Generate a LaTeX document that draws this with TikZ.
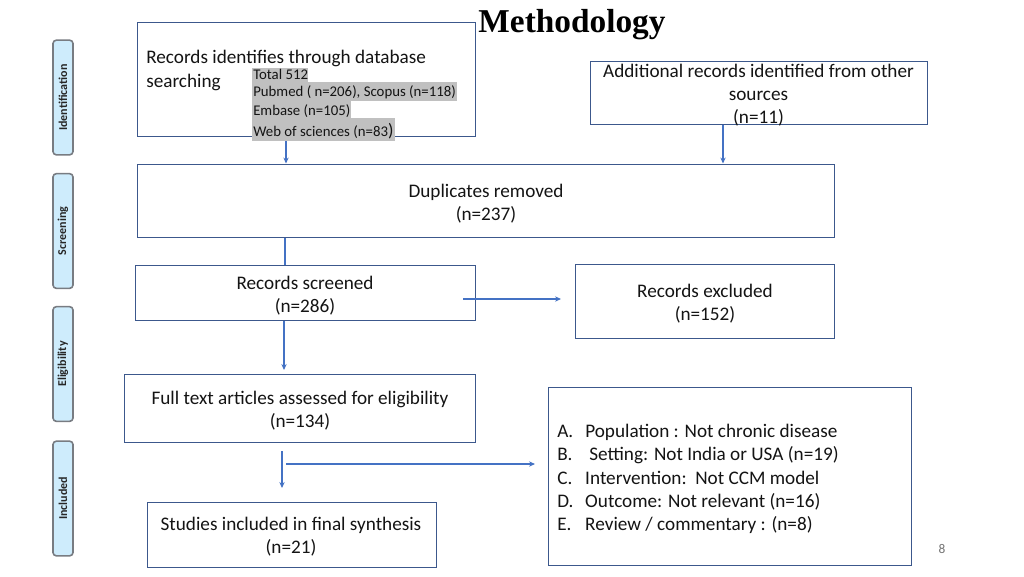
\documentclass[tikz,border=0pt]{standalone}
\usepackage{fontspec}
\setmainfont{Carlito}
\newfontfamily\titlefont{Liberation Serif}
\usetikzlibrary{fit,arrows.meta}
\definecolor{boxc}{RGB}{60,88,140}
\definecolor{arrc}{RGB}{68,114,196}
\definecolor{hlc}{RGB}{192,192,192}
\definecolor{tabfill}{RGB}{206,236,252}
\definecolor{tabline}{RGB}{120,124,130}
\definecolor{txtc}{RGB}{20,20,20}
\begin{document}
\begin{tikzpicture}[x=0.75pt,y=-0.75pt,
  box/.style={draw=boxc,line width=0.75pt,inner sep=0pt},
  arr/.style={draw=arrc,line width=0.8pt,-{Stealth[length=4.5pt,width=4pt]}},
  plain/.style={draw=arrc,line width=0.8pt},
  bodytxt/.style={inner sep=0pt,text=txtc,font=\fontsize{14.4}{17.4}\selectfont},
  ctxt/.style={bodytxt,align=center},
  smalltxt/.style={inner sep=0pt,text=txtc,font=\fontsize{11.1}{12}\selectfont,anchor=west},
  hl/.style={fill=hlc},
  tab/.style={draw=tabline,line width=1.2pt,fill=tabfill,rounded corners=2.5pt,rotate=90,minimum width=86pt,minimum height=15pt,inner sep=0pt,font=\fontsize{9}{10}\selectfont\bfseries,text=black!85}]
\useasboundingbox (0,0) rectangle (1024,576);
\fill[white] (0,0) rectangle (1024,576);

% title
\node[inner sep=0pt,font=\titlefont\fontsize{25}{30}\selectfont\bfseries] (title) at (572,25) {Methodology};

% side tabs
\node[tab] (tid) at (63,97.5) {Identification};
\node[tab] (tsc) at (63,231) {Screening};
\node[tab] (tel) at (63,364) {Eligibility};
\node[tab] (tin) at (63,498.5) {Included};

% box 1
\node[box,fit={(137,22) (475,136)}] (b1) {};
\node[bodytxt,anchor=west,align=left] (t1) at (146,70.5) {Records identifies through database\\searching};
\fill[hl] (252,68) rectangle (308,82.5);
\fill[hl] (252,82) rectangle (457,100.5);
\fill[hl] (252,100) rectangle (351,118.5);
\fill[hl] (252,118) rectangle (395,141);
\node[smalltxt] (s1) at (253,74) {Total 512};
\node[smalltxt] (s2) at (253,92.5) {Pubmed ( n=206), Scopus (n=118)};
\node[smalltxt] (s3) at (253,111) {Embase (n=105)};
\node[smalltxt] (s4) at (253,131.5) {Web of sciences (n=83\fontsize{13.5}{13.5}\selectfont)};

% box 2
\node[box,fit={(590,61) (927,124)}] (b2) {};
\node[ctxt] (t2) at (758.5,95) {Additional records identified from other\\sources\\(n=11)};

% box 3
\node[box,fit={(137,164) (834,237)}] (b3) {};
\node[ctxt] (t3) at (486,203.5) {Duplicates removed\\(n=237)};

% box 4
\node[box,fit={(135,265) (475,320)}] (b4) {};
\node[ctxt] (t4) at (305,295.5) {Records screened\\(n=286)};

% box 5
\node[box,fit={(575,264) (834,338)}] (b5) {};
\node[ctxt] (t5) at (705,303.5) {Records excluded\\(n=152)};

% box 6
\node[box,fit={(124,374) (475,442)}] (b6) {};
\node[ctxt] (t6) at (300,410.5) {Full text articles assessed for eligibility\\(n=134)};

% box 7
\node[box,fit={(147,502) (436,567)}] (b7) {};
\node[ctxt] (t7) at (291,536.5) {Studies included in final synthesis\\(n=21)};

% box 8
\node[box,fit={(548,387) (911,565)}] (b8) {};
\node[bodytxt,anchor=west,align=left] (t8) at (557,479) {%
\makebox[21pt][l]{A.}Population : Not chronic disease\\
\makebox[21pt][l]{B.}\hspace{3pt}Setting: Not India or USA (n=19)\\
\makebox[21pt][l]{C.}Intervention:\ \ Not CCM model\\
\makebox[21pt][l]{D.}Outcome: Not relevant (n=16)\\
\makebox[21pt][l]{E.}Review / commentary : (n=8)};

% page number
\node[inner sep=0pt,text=black!55,font=\fontsize{10}{11}\selectfont] (pg) at (942,549) {8};

% connectors
\coordinate (p1) at (286,141);
\draw[arr] (p1) -- (p1 |- b3.north);
\coordinate (p2) at (723,140);
\draw[arr] (b2.south -| p2) -- (p2 |- b3.north);
\coordinate (p3) at (285,250);
\draw[plain] (b3.south -| p3) -- (p3 |- b4.north);
\coordinate (q1) at (463,299);
\coordinate (q2) at (561,299);
\draw[arr] (q1) -- (q2);
\coordinate (p4) at (284,370);
\draw[arr] (b4.south -| p4) -- (p4);
\coordinate (r1) at (282,451);
\coordinate (r2) at (282,488);
\draw[arr] (r1) -- (r2);
\coordinate (r3) at (286,464);
\coordinate (r4) at (535,464);
\draw[arr] (r3) -- (r4);
\end{tikzpicture}
\end{document}
